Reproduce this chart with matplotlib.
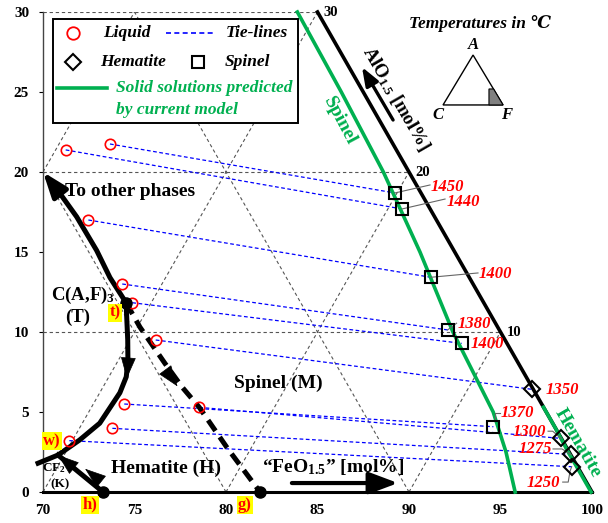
import matplotlib
matplotlib.use('Agg')
import matplotlib.pyplot as plt
from matplotlib.patches import Rectangle, Polygon

plt.rcParams['font.family'] = ['Liberation Serif', 'DejaVu Serif']
plt.rcParams['mathtext.fontset'] = 'custom'
plt.rcParams['mathtext.rm'] = 'Liberation Serif:bold'
plt.rcParams['mathtext.it'] = 'Liberation Serif:bold:italic'
plt.rcParams['mathtext.bf'] = 'Liberation Serif:bold'

# ---------------- data ----------------
liquid_x = [73.66, 71.24, 72.48, 74.33, 74.88, 76.16, 74.44, 78.54, 73.79, 71.44]
liquid_y = [21.75, 21.38, 17.00, 13.00, 11.83, 9.50, 5.50, 5.29, 3.98, 3.21]
solid_x = [89.23, 89.62, 91.19, 92.11, 92.88, 96.70, 94.61, 98.31, 98.85, 98.89]
solid_y = [18.69, 17.69, 13.42, 10.13, 9.29, 6.42, 4.08, 3.35, 2.35, 1.58]
solid_phase = ['S', 'S', 'S', 'S', 'S', 'H', 'S', 'H', 'H', 'H']
temps = [1450, 1440, 1400, 1380, 1400, 1350, 1370, 1300, 1275, 1250]

# model solid solution curves
spinel_ss_x = [83.9, 86.3, 88.6, 90.6, 92.4, 93.5, 94.6, 95.3, 95.8]
spinel_ss_y = [30.0, 25.0, 20.0, 15.0, 10.0, 7.5, 5.0, 2.5, 0.0]
hem_ss_x = [97.35, 98.0, 98.65, 99.3, 99.95]
hem_ss_y = [5.30, 4.0, 2.6, 1.3, 0.0]

# phase boundary curves
to_other_x = [74.54, 73.66, 72.93, 71.84, 70.9, 70.0]
to_other_y = [11.83, 13.4, 15.1, 17.2, 18.7, 20.0]
t_down_x = [74.54, 74.63, 74.64, 74.55, 74.2, 73.1, 72.0, 70.82, 69.73]
t_down_y = [11.83, 9.5, 8.25, 7.2, 6.2, 4.3, 3.25, 2.31, 1.8]
h_curve_x = [73.28, 72.0, 70.82]
h_curve_y = [0.0, 1.2, 2.31]
g_curve_x = [74.54, 75.3, 76.65, 77.6, 78.54, 80.1, 81.86]
g_curve_y = [11.83, 10.3, 8.06, 6.56, 5.29, 2.7, 0.0]

x_ticks = [70, 75, 80, 85, 90, 95, 100]
y_ticks = [0, 5, 10, 15, 20, 25, 30]
edge_ticks = [10, 20, 30]

# ---------------- styling / positions ----------------
RED = '#FF0000'
GREEN = '#00B050'
BLUE = '#0000FF'
GRID = '#555555'

label_pos = [(91.2, 19.06, 'left'), (92.06, 18.13, 'left'), (93.83, 13.63, 'left'),
             (92.68, 10.50, 'left'), (93.39, 9.25, 'left'), (97.49, 6.38, 'left'),
             (95.03, 4.94, 'left'), (97.49, 3.75, 'right'), (97.81, 2.69, 'right'),
             (98.25, 0.56, 'right')]
leaders = [[(91.15, 19.19)], [(91.97, 18.31)], [(93.77, 13.69)], [(92.6, 10.55)], None, None,
           [(94.7, 4.44), (94.7, 4.94), (94.97, 4.94)],
           [(97.6, 3.8), (97.85, 3.8)],
           [(97.87, 2.69), (98.36, 2.69)],
           [(98.4, 0.62), (98.7, 0.62), (98.8, 1.3)]]

fig = plt.figure(figsize=(6.08, 5.23), dpi=100)
ax = fig.add_axes([43 / 608, 31 / 523, 549 / 608, 480 / 523])
ax.set_xlim(70, 100)
ax.set_ylim(0, 30)

# grid
gkw = dict(color=GRID, lw=0.8, ls=(0, (3, 2.5)), zorder=1)
for g in edge_ticks:
    ax.plot([70, 100 - g / 2], [g, g], **gkw)
for F in [60, 70, 80, 90]:
    a0 = max(0, 2 * (70 - F)); a1 = min(30, 100 - F)
    ax.plot([F + a0 / 2, F + a1 / 2], [a0, a1], **gkw)
for C in [10, 20]:
    a0 = 0; a1 = min(30, 2 * (30 - C))
    ax.plot([100 - C - a0 / 2, 100 - C - a1 / 2], [a0, a1], **gkw)

# AF edge
ax.plot([85, 100], [30, 0], color='k', lw=2.6, zorder=3, clip_on=False)
for g in edge_ticks:
    ax.text(100 - g / 2 + 0.35, g, str(g), fontsize=10.5, fontweight='bold', ha='left', va='center')

# tie lines
for i in range(len(liquid_x)):
    ax.plot([liquid_x[i], solid_x[i]], [liquid_y[i], solid_y[i]], color=BLUE, lw=0.9,
            ls=(0, (3, 2)), zorder=2)

# model curves
ax.plot(spinel_ss_x, spinel_ss_y, color=GREEN, lw=2.6, zorder=4, clip_on=False)
ax.plot(hem_ss_x, hem_ss_y, color=GREEN, lw=2.6, zorder=4, clip_on=False)

# markers
ax.plot(liquid_x, liquid_y, 'o', mfc='none', mec=RED, ms=7.5, mew=1.2, zorder=6, ls='none')
sx = [x for x, p in zip(solid_x, solid_phase) if p == 'S']
sy = [y for y, p in zip(solid_y, solid_phase) if p == 'S']
hx = [x for x, p in zip(solid_x, solid_phase) if p == 'H']
hy = [y for y, p in zip(solid_y, solid_phase) if p == 'H']
ax.plot(sx, sy, 's', mfc='none', mec='k', ms=8, mew=1.5, zorder=6, ls='none')
ax.plot(hx, hy, 'D', mfc='none', mec='k', ms=8, mew=1.5, zorder=6, ls='none')

# temperature labels
for i, t in enumerate(temps):
    lx, ly, ha = label_pos[i]
    ax.text(lx, ly, str(t), color=RED, fontsize=12, fontweight='bold', fontstyle='italic',
            ha=ha, va='center', zorder=7)
    if leaders[i]:
        pts = [(solid_x[i], solid_y[i])] + leaders[i] if ha == 'left' else leaders[i] + [(solid_x[i], solid_y[i])]
        if i == 6:
            pts = leaders[i]
        ax.plot([p[0] for p in pts], [p[1] for p in pts], color='#666666', lw=0.8, zorder=5)

# phase boundaries
LW = 3.6
ax.plot(to_other_x[:-1], to_other_y[:-1], color='k', lw=LW, zorder=5, solid_capstyle='butt')
ax.annotate('', xy=(to_other_x[-1], to_other_y[-1]), xytext=(to_other_x[-2], to_other_y[-2]),
            arrowprops=dict(arrowstyle='-|>,head_length=0.6,head_width=0.22', lw=LW, color='k',
                            mutation_scale=25, shrinkA=0, shrinkB=0), zorder=5)
ax.plot(t_down_x, t_down_y, color='k', lw=LW, zorder=5, clip_on=False)
ax.plot(h_curve_x, h_curve_y, color='k', lw=LW, zorder=5)
ax.plot(g_curve_x, g_curve_y, color='k', lw=LW, ls=(0, (2.6, 1.5)), zorder=5, clip_on=False)

head = dict(arrowstyle='-|>,head_length=0.7,head_width=0.25', lw=0.5, color='k',
            mutation_scale=20, shrinkA=0, shrinkB=0)
ax.annotate('', xy=(74.58, 7.1), xytext=(74.64, 8.0), arrowprops=head, zorder=6)
ax.annotate('', xy=(77.35, 6.6), xytext=(76.8, 7.45), arrowprops=head, zorder=6)
ax.annotate('', xy=(72.3, 1.45), xytext=(72.9, 0.9), arrowprops=head, zorder=6)
ax.annotate('', xy=(70.82, 2.31), xytext=(71.3, 1.86), arrowprops=head, zorder=6)

ax.plot([74.54], [11.83], 'o', color='k', ms=8, zorder=7)
ax.plot([73.28, 81.86], [0, 0], 'o', color='k', ms=8, zorder=7, clip_on=False)

# point labels
ybox = dict(facecolor='#FFFF00', edgecolor='none', pad=0.8)
for s, x, y in [('t)', 73.93, 11.2), ('w)', 70.5, 3.19), ('h)', 72.57, -0.8), ('g)', 81.04, -0.8)]:
    ax.text(x, y, s, color=RED, fontsize=12, fontweight='bold', ha='center', va='center',
            bbox=ybox, zorder=8, clip_on=False)

# region labels
bk = dict(fontweight='bold', color='k', ha='center', va='center')
ax.text(74.75, 18.8, 'To other phases', fontsize=14, **bk)
ax.text(72.2, 12.3, 'C(A,F)$_3$', fontsize=13.5, **bk)
ax.text(71.9, 10.94, '(T)', fontsize=13.5, **bk)
ax.text(82.85, 6.8, 'Spinel (M)', fontsize=14, **bk)
ax.text(76.7, 1.5, 'Hematite (H)', fontsize=14, **bk)
ax.text(70.6, 1.5, 'CF$_2$', fontsize=9.5, **bk)
ax.text(70.95, 0.5, '(K)', fontsize=9.5, **bk)
ax.text(85.85, 1.55, '\u201cFeO$_{1.5}$\u201d [mol%]', fontsize=14, **bk)
ax.annotate('', xy=(89.4, 0.56), xytext=(83.6, 0.56),
            arrowprops=dict(arrowstyle='-|>,head_length=0.8,head_width=0.3', lw=3, color='k',
                            mutation_scale=22, shrinkA=0, shrinkB=0))
ax.text(89.3, 24.6, 'AlO$_{1.5}$ [mol%]', fontsize=13.5, rotation=-60, rotation_mode='anchor', **bk)
ax.annotate('', xy=(87.43, 26.56), xytext=(89.13, 23.25),
            arrowprops=dict(arrowstyle='-|>,head_length=0.8,head_width=0.3', lw=2.4, color='k',
                            mutation_scale=14, shrinkA=0, shrinkB=0))
ax.text(86.2, 23.2, 'Spinel', fontsize=14, fontweight='bold', color=GREEN, rotation=-62,
        rotation_mode='anchor', ha='center', va='center')
ax.text(99.2, 3.05, 'Hematite', fontsize=14, fontweight='bold', color=GREEN, rotation=-60,
        rotation_mode='anchor', ha='center', va='center', clip_on=False)
ax.text(93.86, 29.3, 'Temperatures in \u2103', fontsize=12.5, fontweight='bold',
        fontstyle='italic', ha='center', va='center')

# mini triangle
tri_A = (93.5, 27.31); tri_C = (91.86, 24.19); tri_F = (95.14, 24.19)
ax.add_patch(Polygon([tri_A, tri_C, tri_F], closed=True, fill=False, ec='k', lw=1, zorder=5))
ax.add_patch(Polygon([(94.37, 25.19), (94.37, 24.19), tri_F, (94.62, 25.19)], closed=True,
                     fc='#808080', ec='k', lw=0.8, zorder=5))
it = dict(fontsize=12, fontweight='bold', fontstyle='italic', ha='center', va='center')
ax.text(93.5, 27.95, 'A', **it)
ax.text(91.6, 23.55, 'C', **it)
ax.text(95.35, 23.55, 'F', **it)

# legend (manual)
T = ax.transAxes
ax.add_patch(Rectangle((0.0182, 0.769), 0.4463, 0.2164, transform=T, fc='white', ec='k',
                       lw=1.4, zorder=9))
lt = dict(transform=T, fontsize=12.5, fontweight='bold', fontstyle='italic', va='center', zorder=10)
ax.plot([0.0546], [0.956], 'o', mfc='none', mec=RED, ms=9, mew=1.3, transform=T, zorder=10)
ax.text(0.1093, 0.956, 'Liquid', **lt)
ax.plot([0.224, 0.3115], [0.956, 0.956], color=BLUE, lw=1.2, ls=(0, (3, 2)), transform=T, zorder=10)
ax.text(0.3333, 0.956, 'Tie-lines', **lt)
ax.plot([0.0546], [0.8958], 'D', mfc='none', mec='k', ms=8, mew=1.5, transform=T, zorder=10)
ax.text(0.1038, 0.8958, 'Hematite', **lt)
ax.plot([0.2823], [0.8958], 's', mfc='none', mec='k', ms=8, mew=1.5, transform=T, zorder=10)
ax.text(0.3315, 0.8958, 'Spinel', **lt)
ax.plot([0.0255, 0.1166], [0.8417, 0.8417], color=GREEN, lw=2.6, transform=T, zorder=10)
ax.text(0.133, 0.8417, 'Solid solutions predicted', color=GREEN, **lt)
ax.text(0.133, 0.7958, 'by current model', color=GREEN, **lt)

# axes styling
for s in ['top', 'right']:
    ax.spines[s].set_visible(False)
ax.spines['left'].set_color('#444444')
ax.spines['left'].set_linewidth(1.0)
ax.spines['bottom'].set_color('k')
ax.spines['bottom'].set_linewidth(2.2)
ax.set_xticks(x_ticks)
ax.set_yticks(y_ticks)
ax.tick_params(axis='y', length=3, width=0.8, direction='out', pad=7, labelsize=11)
ax.tick_params(axis='x', length=0, pad=9, labelsize=11)
for lab in ax.get_xticklabels() + ax.get_yticklabels():
    lab.set_fontweight('bold')

fig.savefig('out.png', dpi=100, facecolor='white')
